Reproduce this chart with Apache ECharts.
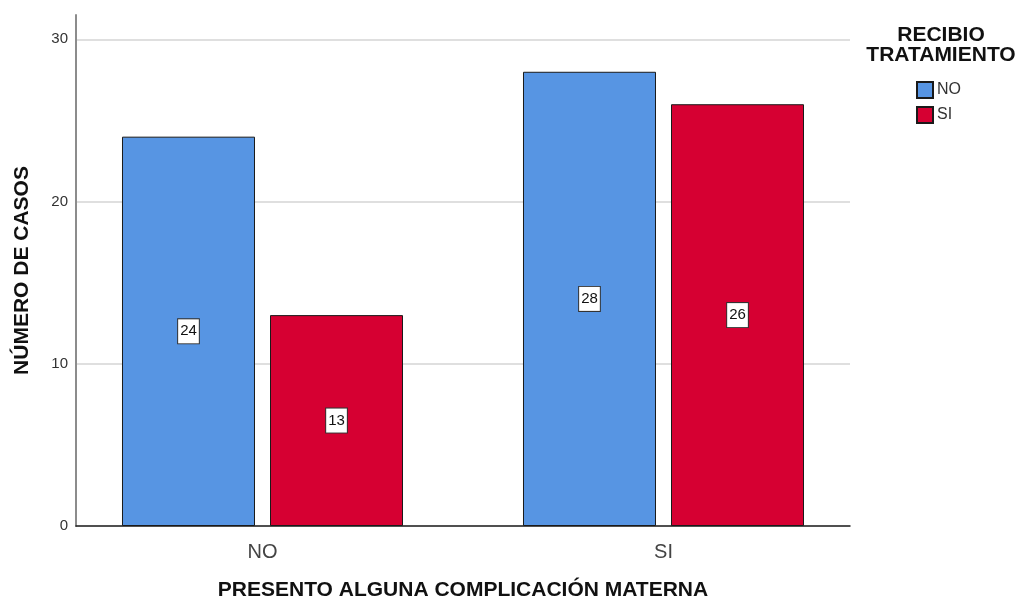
<!DOCTYPE html>
<html>
<head>
<meta charset="utf-8">
<script src="https://cdn.jsdelivr.net/npm/echarts@6/dist/echarts.min.js"></script>
<style>
  html, body { margin: 0; padding: 0; background: #fff; }
  #chart { width: 1020px; height: 599px; }
</style>
</head>
<body>
<div id="chart"></div>
<script>
// Cases by maternal complication, split by whether treatment was received
const categories = ['NO', 'SI'];
const seriesNames = ['NO', 'SI'];
const treatedNo = [24, 28];
const treatedYes = [13, 26];
const yTicks = [0, 10, 20, 30];

const FONT = '"Liberation Sans", Arial, sans-serif';
const colors = ['#5795E3', '#D60032'];

const chart = echarts.init(document.getElementById('chart'), null, { renderer: 'canvas' });

const barLabel = {
  show: true,
  position: 'inside',
  color: '#111',
  fontFamily: FONT,
  fontSize: 15,
  backgroundColor: '#fff',
  borderColor: '#333',
  borderWidth: 1,
  padding: [5, 2, 4, 2]
};

chart.setOption({
  animation: false,
  backgroundColor: '#fff',
  title: {
    text: 'RECIBIO\nTRATAMIENTO',
    left: 941,
    top: 25,
    padding: 0,
    textAlign: 'center',
    textStyle: { fontFamily: FONT, fontSize: 21, fontWeight: 'bold', color: '#111', lineHeight: 20 }
  },
  legend: {
    data: seriesNames,
    orient: 'vertical',
    left: 916,
    top: 81,
    padding: 0,
    itemWidth: 16,
    itemHeight: 16,
    itemGap: 7,
    icon: 'rect',
    textStyle: { fontFamily: FONT, fontSize: 16, color: '#333', padding: [0, 0, 0, -1] }
  },
  grid: [
    // frame: axis lines and gridlines
    { left: 76, right: 170, top: 15, bottom: 73, outerBoundsMode: 'none', containLabel: false },
    // bars and category labels
    { left: 62, right: 156, top: 15, bottom: 73, outerBoundsMode: 'none', containLabel: false }
  ],
  xAxis: [
    {
      type: 'category', gridIndex: 0, data: categories,
      axisLine: { lineStyle: { color: '#222', width: 1.5 } },
      axisTick: { show: false }, axisLabel: { show: false }
    },
    {
      type: 'category', gridIndex: 1, data: categories,
      axisLine: { show: false }, axisTick: { show: false },
      axisLabel: { fontFamily: FONT, fontSize: 20, color: '#444', margin: 16 },
      name: 'PRESENTO ALGUNA COMPLICACIÓN MATERNA',
      nameLocation: 'middle', nameGap: 54,
      nameTextStyle: { fontFamily: FONT, fontSize: 21, fontWeight: 'bold', color: '#111' }
    }
  ],
  yAxis: [
    {
      type: 'value', gridIndex: 0, min: 0, max: 31.5, interval: 10,
      axisLine: { show: true, lineStyle: { color: '#8c8c8c', width: 2 } },
      axisTick: { show: false },
      axisLabel: {
        fontFamily: FONT, fontSize: 15, color: '#333', margin: 8,
        showMaxLabel: false,
        formatter: v => (yTicks.includes(v) ? String(v) : '')
      },
      splitLine: { show: true, showMaxLine: false, lineStyle: { color: '#d4d4d4', width: 1.5 } },
      name: 'NÚMERO DE CASOS',
      nameLocation: 'middle', nameGap: 43, nameRotate: 90,
      nameTextStyle: { fontFamily: FONT, fontSize: 21, fontWeight: 'bold', color: '#111' }
    },
    {
      type: 'value', gridIndex: 1, min: 0, max: 31.5, interval: 10, show: false
    }
  ],
  series: [
    {
      name: seriesNames[0], type: 'bar', xAxisIndex: 1, yAxisIndex: 1,
      data: treatedNo, barWidth: 133, barGap: '11.3%',
      itemStyle: { color: colors[0], borderColor: '#1a1a1a', borderWidth: 1 },
      label: barLabel
    },
    {
      name: seriesNames[1], type: 'bar', xAxisIndex: 1, yAxisIndex: 1,
      data: treatedYes, barWidth: 133, barGap: '11.3%',
      itemStyle: { color: colors[1], borderColor: '#1a1a1a', borderWidth: 1 },
      label: barLabel
    }
  ]
});
</script>
</body>
</html>
